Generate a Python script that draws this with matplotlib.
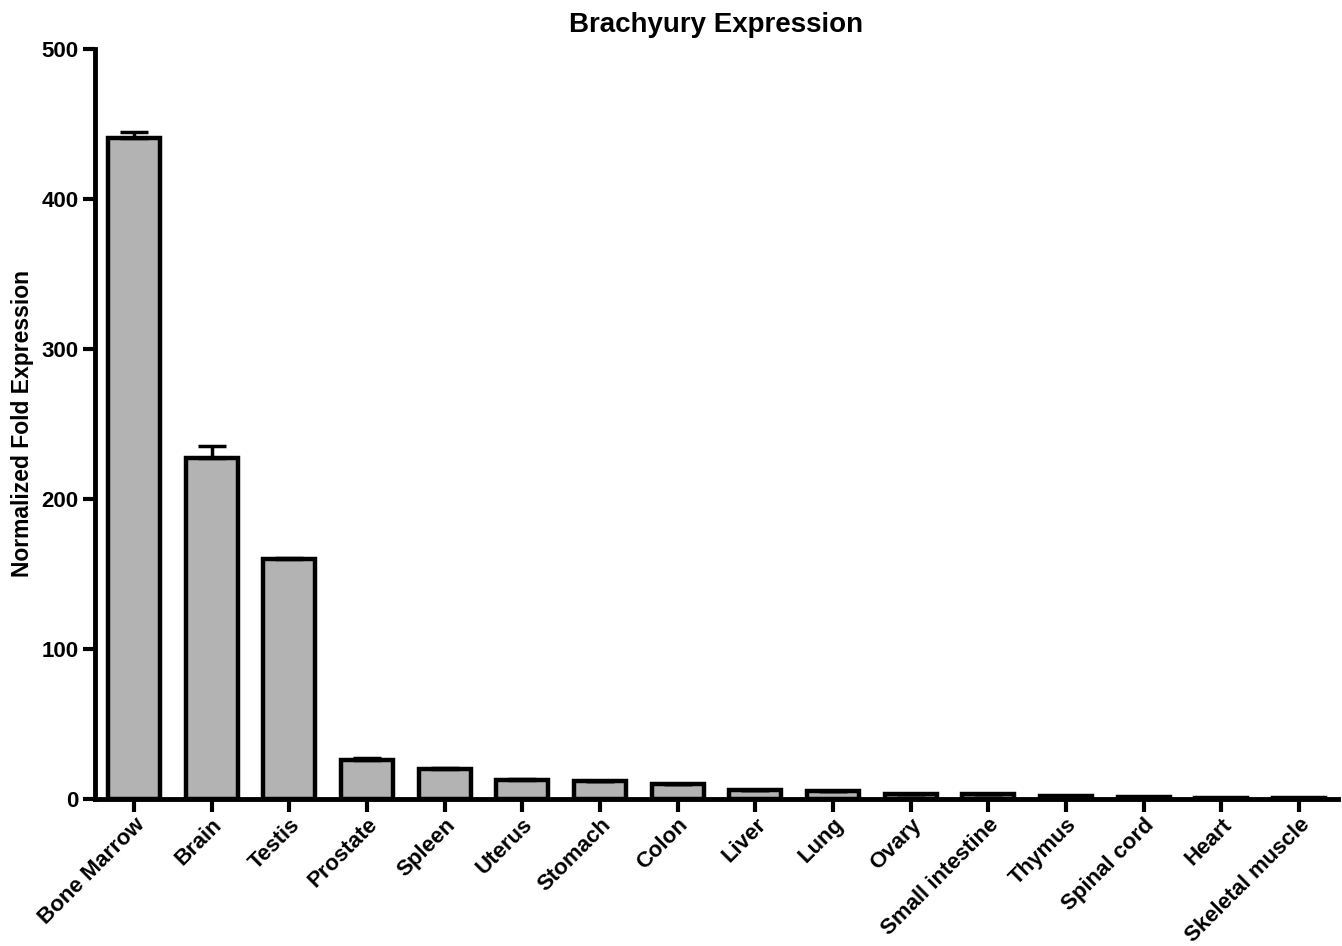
import numpy as np
import matplotlib.pyplot as plt

tissues = ["Bone Marrow", "Brain", "Testis", "Prostate", "Spleen", "Uterus", "Stomach",
           "Colon", "Liver", "Lung", "Ovary", "Small intestine", "Thymus", "Spinal cord",
           "Heart", "Skeletal muscle"]
expression = [441, 227, 160, 26, 20, 12.7, 12, 10, 6, 5, 3.5, 3, 2, 1.3, 0.7, 0.5]
error_up = [4, 8.5, 0.5, 1, 0.5, 0.3, 0.3, 0.3, 0.2, 0.2, 0.1, 0.1, 0.1, 0.1, 0.1, 0.1]

plt.rcParams['font.family'] = ['Liberation Sans', 'DejaVu Sans']

fig = plt.figure(figsize=(13.42, 9.46), dpi=100)
ax = fig.add_axes([0.0708, 0.1554, 0.9262, 0.7928])

x = np.arange(len(tissues))
ax.bar(x, expression, width=0.67, color='#b3b3b3', edgecolor='black', linewidth=3.2,
       yerr=[np.zeros(len(error_up)), error_up], capsize=10,
       error_kw=dict(elinewidth=2.5, capthick=2.5, ecolor='black'), zorder=2)

ax.set_xlim(-0.5, 15.5)
ax.set_ylim(0, 500)
ax.set_yticks([0, 100, 200, 300, 400, 500])
ax.set_xticks(x)
ax.set_xticklabels(tissues, rotation=45, ha='right', rotation_mode='anchor')

for lab in ax.get_xticklabels() + ax.get_yticklabels():
    lab.set_fontsize(16)
    lab.set_fontweight('bold')

ax.spines['top'].set_visible(False)
ax.spines['right'].set_visible(False)
ax.spines['left'].set_linewidth(3.5)
ax.spines['bottom'].set_linewidth(3.5)
ax.tick_params(axis='both', width=3, length=9, pad=3)
ax.tick_params(axis='x', pad=2)

ax.set_ylabel('Normalized Fold Expression', fontsize=16.5, fontweight='bold', labelpad=5)
ax.set_title('Brachyury Expression', fontsize=20, fontweight='bold', pad=12)

fig.savefig('out.png', dpi=100)
